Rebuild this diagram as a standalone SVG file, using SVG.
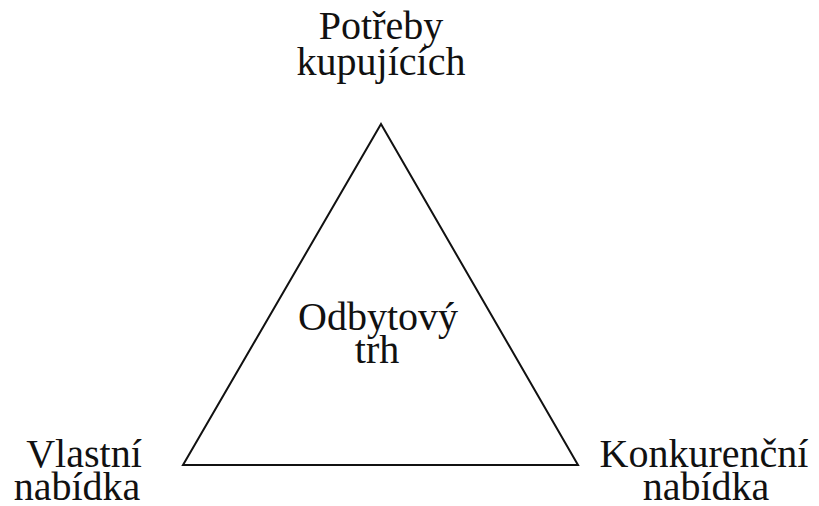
<svg xmlns="http://www.w3.org/2000/svg" width="819" height="506" viewBox="0 0 819 506">
<style>
text{font-family:"Liberation Serif","Times New Roman",serif;font-size:40px;fill:#111;text-anchor:middle}
.edge{fill:none;stroke:#111;stroke-width:2;stroke-linejoin:miter}
</style>
<rect width="819" height="506" fill="#fff"/>
<g id="connectors">
<polygon class="edge" points="381,124 183,465 578,465"/>
</g>
<g id="node-potreby"><text x="381" y="39">Potřeby</text><text x="381" y="75">kupujících</text></g>
<g id="node-odbytovy"><text x="378" y="330">Odbytový</text><text x="377" y="363">trh</text></g>
<g id="node-vlastni"><text x="84" y="467">Vlastní</text><text x="77" y="500">nabídka</text></g>
<g id="node-konkurencni"><text x="704" y="467">Konkurenční</text><text x="706" y="500">nabídka</text></g>
</svg>
